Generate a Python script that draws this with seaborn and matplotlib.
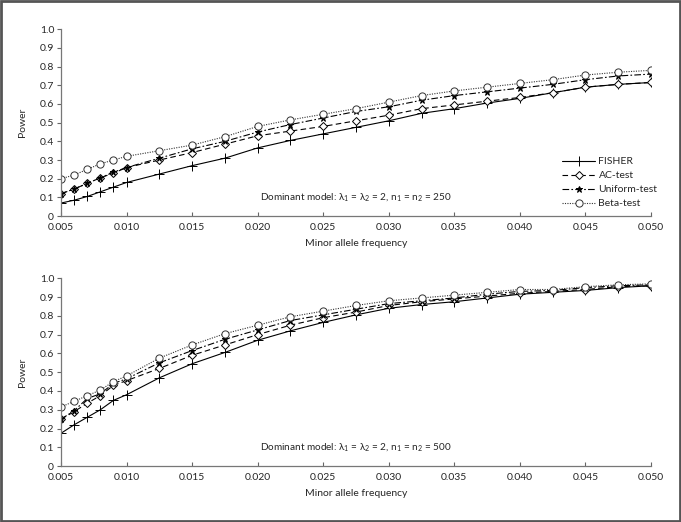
import numpy as np
import pandas as pd
import matplotlib
matplotlib.use("Agg")
import matplotlib.pyplot as plt
import seaborn as sns
from matplotlib.patches import Rectangle

# minor allele frequencies
maf = [0.005, 0.006, 0.007, 0.008, 0.009, 0.010, 0.0125, 0.015, 0.0175, 0.020, 0.0225,
       0.025, 0.0275, 0.030, 0.0325, 0.035, 0.0375, 0.040, 0.0425, 0.045, 0.0475, 0.050]

# n1 = n2 = 250
fisher_250 = [0.07, 0.085, 0.105, 0.13, 0.155, 0.18, 0.225, 0.27, 0.31, 0.365, 0.405,
              0.44, 0.475, 0.51, 0.55, 0.575, 0.605, 0.63, 0.66, 0.69, 0.705, 0.715]
ac_250 = [0.12, 0.145, 0.175, 0.205, 0.23, 0.26, 0.30, 0.34, 0.385, 0.43, 0.455,
          0.48, 0.51, 0.54, 0.575, 0.595, 0.615, 0.635, 0.66, 0.69, 0.705, 0.715]
uniform_250 = [0.12, 0.145, 0.175, 0.205, 0.235, 0.26, 0.31, 0.36, 0.40, 0.45, 0.49,
               0.525, 0.56, 0.585, 0.62, 0.645, 0.665, 0.685, 0.705, 0.73, 0.75, 0.76]
beta_250 = [0.20, 0.22, 0.25, 0.28, 0.30, 0.32, 0.35, 0.38, 0.425, 0.48, 0.515,
            0.545, 0.575, 0.61, 0.645, 0.67, 0.69, 0.71, 0.73, 0.755, 0.77, 0.78]

# n1 = n2 = 500
fisher_500 = [0.175, 0.22, 0.26, 0.30, 0.35, 0.38, 0.47, 0.545, 0.605, 0.67, 0.72,
              0.765, 0.805, 0.84, 0.86, 0.875, 0.895, 0.915, 0.925, 0.935, 0.95, 0.96]
ac_500 = [0.25, 0.29, 0.335, 0.375, 0.43, 0.455, 0.52, 0.59, 0.645, 0.70, 0.75,
          0.79, 0.82, 0.855, 0.875, 0.89, 0.905, 0.92, 0.93, 0.94, 0.955, 0.96]
uniform_500 = [0.25, 0.295, 0.36, 0.385, 0.44, 0.465, 0.55, 0.615, 0.675, 0.725, 0.775,
               0.805, 0.835, 0.865, 0.88, 0.895, 0.915, 0.93, 0.935, 0.95, 0.96, 0.965]
beta_500 = [0.315, 0.345, 0.375, 0.405, 0.45, 0.48, 0.575, 0.645, 0.705, 0.75, 0.795,
            0.825, 0.855, 0.88, 0.895, 0.91, 0.925, 0.94, 0.94, 0.955, 0.965, 0.97]

tests = ["FISHER", "AC-test", "Uniform-test", "Beta-test"]
x_ticks = [0.005, 0.010, 0.015, 0.020, 0.025, 0.030, 0.035, 0.040, 0.045, 0.050]
y_ticks = [0, 0.1, 0.2, 0.3, 0.4, 0.5, 0.6, 0.7, 0.8, 0.9, 1.0]
y_labels = ["0", "0.1", "0.2", "0.3", "0.4", "0.5", "0.6", "0.7", "0.8", "0.9", "1.0"]

styles = {
    "FISHER": dict(linestyle="-", marker="+", markersize=6.5, markerfacecolor="black", color="black"),
    "AC-test": dict(linestyle=(0, (5, 3)), marker="D", markersize=4.3, markerfacecolor="white", color="black"),
    "Uniform-test": dict(linestyle=(0, (6, 2, 1.5, 2)), marker="*", markersize=5, markerfacecolor="black", color="black"),
    "Beta-test": dict(linestyle=(0, (1, 1.2)), marker="o", markersize=5.2, markerfacecolor="white", color="#333333"),
}

sns.set_theme(style="ticks")
plt.rcParams["font.family"] = ["Lato", "DejaVu Sans"]
plt.rcParams["mathtext.fontset"] = "custom"
plt.rcParams["mathtext.rm"] = "Lato"

fig = plt.figure(figsize=(6.81, 5.22), dpi=100)
ax1 = fig.add_axes([0.0896, 0.586, 0.8664, 0.358])
ax2 = fig.add_axes([0.0896, 0.107, 0.8664, 0.360])

panels = [
    (ax1, [fisher_250, ac_250, uniform_250, beta_250], 250),
    (ax2, [fisher_500, ac_500, uniform_500, beta_500], 500),
]

for ax, series, n in panels:
    df = pd.DataFrame({"maf": np.tile(maf, 4),
                       "power": np.concatenate(series),
                       "test": np.repeat(tests, len(maf))})
    for t in tests:
        st = styles[t]
        sub = df[df["test"] == t]
        sns.lineplot(data=sub, x="maf", y="power", ax=ax, label=t,
                     color=st["color"], linestyle=st["linestyle"], linewidth=0.8,
                     marker=st["marker"], markersize=st["markersize"],
                     markerfacecolor=st["markerfacecolor"], markeredgecolor=st["color"],
                     markeredgewidth=0.7)
    ax.set_xlim(0.005, 0.050)
    ax.set_ylim(0, 1.0)
    ax.set_xticks(x_ticks)
    ax.set_xticklabels([f"{v:.3f}" for v in x_ticks])
    ax.set_yticks(y_ticks)
    ax.set_yticklabels(y_labels)
    ax.tick_params(axis="x", direction="in", length=3, width=0.8, color="#666666", labelsize=7.5, pad=5)
    ax.tick_params(axis="y", direction="out", length=3, width=0.8, color="#666666", labelsize=7.5, pad=2)
    for side in ["top", "right"]:
        ax.spines[side].set_visible(False)
    for side in ["left", "bottom"]:
        ax.spines[side].set_color("#777777")
        ax.spines[side].set_linewidth(0.9)
    ax.set_xlabel("Minor allele frequency", fontsize=7.5, labelpad=5)
    ax.set_ylabel("Power", fontsize=7.5, labelpad=9)
    ax.text(0.0275, 0.097,
            r"Dominant model: λ$_1$ = λ$_2$ = 2, n$_1$ = n$_2$ = " + str(n),
            ha="center", va="center", fontsize=7.2)
    ax.grid(False)

ax1.legend(loc="lower right", bbox_to_anchor=(1.018, 0.02), frameon=False, fontsize=7.5,
           handlelength=3.2, handletextpad=0.3, labelspacing=0.45, borderaxespad=0)
ax2.get_legend().remove()

fig.patches.append(Rectangle((0.001, 0.001), 0.998, 0.997, transform=fig.transFigure,
                             fill=False, edgecolor="#555555", linewidth=2))

fig.savefig("out.png", dpi=100, facecolor="white")
